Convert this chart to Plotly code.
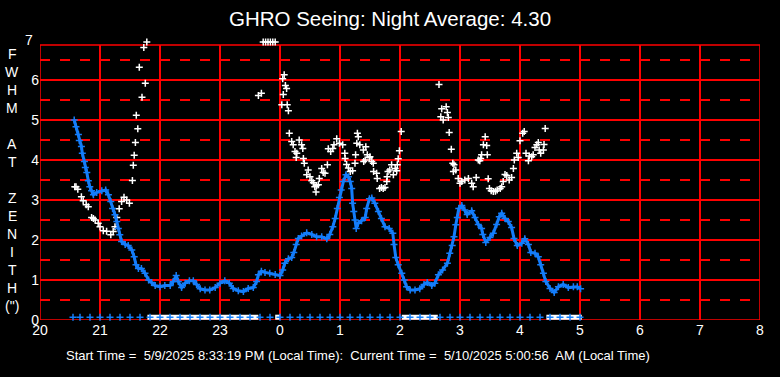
import plotly.graph_objects as go

# ---------------- data (hours; values after midnight expressed as 24+h) ----------------
blue_t = [20.57, 20.60, 20.64, 20.655, 20.69, 20.705, 20.74, 20.755, 20.78, 20.805, 20.83, 20.86, 20.89,
          20.945, 21.03, 21.095, 21.14, 21.18, 21.21, 21.25, 21.28, 21.305, 21.33, 21.36, 21.42, 21.47,
          21.53, 21.57, 21.60, 21.64, 21.69, 21.75, 21.81, 21.86, 21.92, 22.00, 22.08, 22.17, 22.22,
          22.27, 22.305, 22.36, 22.42, 22.49, 22.555, 22.61, 22.67, 22.75, 22.83, 22.92, 23.00, 23.08,
          23.155, 23.22, 23.305, 23.39, 23.47, 23.555, 23.61, 23.64, 23.69, 23.75, 23.83, 23.92, 24.00,
          24.045, 24.08, 24.14, 24.195, 24.23, 24.27, 24.305, 24.36, 24.445, 24.53, 24.61, 24.695, 24.78,
          24.83, 24.88, 24.92, 24.955, 24.99, 25.02, 25.055, 25.10, 25.14, 25.17, 25.195, 25.21, 25.23,
          25.25, 25.27, 25.305, 25.36, 25.42, 25.445, 25.49, 25.53, 25.58, 25.64, 25.69, 25.75, 25.82,
          25.88, 25.90, 25.93, 25.97, 26.03, 26.07, 26.11, 26.17, 26.25, 26.33, 26.40, 26.455, 26.53,
          26.58, 26.64, 26.71, 26.79, 26.83, 26.87, 26.90, 26.93, 26.955, 26.98, 27.03, 27.08, 27.12,
          27.195, 27.25, 27.305, 27.36, 27.38, 27.43, 27.50, 27.555, 27.61, 27.655, 27.695, 27.75,
          27.805, 27.86, 27.90, 27.955, 28.03, 28.08, 28.14, 28.18, 28.25, 28.305, 28.345, 28.39, 28.43,
          28.50, 28.57, 28.64, 28.72, 28.805, 28.89, 28.955, 29.01]
blue_v = [5.00, 4.83, 4.64, 4.49, 4.34, 4.17, 3.96, 3.81, 3.69, 3.48, 3.33, 3.23, 3.13,
          3.19, 3.23, 3.25, 3.13, 2.96, 2.79, 2.63, 2.46, 2.29, 2.13, 1.96, 1.89, 1.86,
          1.75, 1.58, 1.38, 1.29, 1.29, 1.17, 1.00, 0.94, 0.86, 0.83, 0.86, 0.86, 0.96,
          1.11, 0.96, 0.81, 0.92, 0.98, 0.98, 0.89, 0.78, 0.75, 0.75, 0.81, 0.92, 0.98,
          0.92, 0.79, 0.73, 0.71, 0.79, 0.81, 0.96, 1.13, 1.22, 1.19, 1.17, 1.14, 1.11,
          1.25, 1.42, 1.53, 1.56, 1.69, 1.89, 2.04, 2.10, 2.18, 2.14, 2.08, 2.08, 2.03,
          2.14, 2.33, 2.54, 2.79, 3.06, 3.25, 3.46, 3.63, 3.58, 3.46, 3.29, 2.92, 2.71,
          2.50, 2.29, 2.42, 2.48, 2.56, 2.79, 3.03, 3.05, 2.92, 2.71, 2.54, 2.33, 2.29,
          2.17, 1.89, 1.56, 1.38, 1.17, 1.00, 0.83, 0.75, 0.75, 0.78, 0.89, 0.94, 0.86,
          0.92, 1.13, 1.25, 1.42, 1.67, 1.86, 2.08, 2.38, 2.56, 2.79, 2.86, 2.75, 2.64,
          2.73, 2.56, 2.39, 2.29, 2.14, 1.94, 2.06, 2.17, 2.39, 2.58, 2.67, 2.54,
          2.46, 2.31, 2.04, 1.86, 1.92, 2.03, 1.89, 1.69, 1.67, 1.58, 1.38, 1.17, 0.96,
          0.79, 0.69, 0.83, 0.89, 0.81, 0.83, 0.83, 0.78]

white_t = [20.58, 20.60, 20.63, 20.69, 20.72, 20.77, 20.805, 20.86, 20.89, 20.92, 20.97, 21.00, 21.055,
           21.11, 21.18, 21.22, 21.25, 21.28, 21.32, 21.36, 21.40, 21.445, 21.49, 21.54, 21.555, 21.57,
           21.59, 21.605, 21.63, 21.655, 21.70, 21.73, 21.755, 21.78,
           23.64, 23.69, 23.72, 23.76, 23.80, 23.84, 23.88, 23.92,
           24.03, 24.045, 24.055, 24.07, 24.09, 24.11, 24.12, 24.14, 24.155, 24.195, 24.22, 24.25, 24.27,
           24.28, 24.32, 24.36, 24.38, 24.39, 24.405, 24.445, 24.47, 24.50, 24.53, 24.555, 24.58, 24.60,
           24.61, 24.64, 24.655, 24.695, 24.72, 24.75, 24.79, 24.805, 24.845, 24.88, 24.90, 24.945, 24.99,
           25.045, 25.08, 25.085, 25.11, 25.14, 25.17, 25.21, 25.25, 25.26, 25.28, 25.29, 25.305, 25.33,
           25.39, 25.395, 25.42, 25.43, 25.455, 25.49, 25.50, 25.53, 25.555, 25.56, 25.61, 25.62, 25.66,
           25.69, 25.72, 25.75, 25.78, 25.785, 25.80, 25.83, 25.86, 25.89, 25.92, 25.945, 25.955, 25.97,
           25.99, 26.02,
           26.65, 26.68, 26.695, 26.72, 26.77, 26.79, 26.805, 26.82, 26.855, 26.88, 26.89, 26.90, 26.93,
           26.97, 27.00, 27.03, 27.08, 27.14, 27.195, 27.22, 27.27, 27.305, 27.33, 27.345, 27.36, 27.39,
           27.42, 27.445, 27.455, 27.47, 27.49, 27.52, 27.555, 27.59, 27.62, 27.67, 27.695, 27.72, 27.75,
           27.78, 27.82, 27.86, 27.89, 27.905, 27.945, 27.97, 28.00, 28.045, 28.07, 28.10, 28.14, 28.155,
           28.195, 28.22, 28.25, 28.28, 28.305, 28.32, 28.345, 28.39, 28.40, 28.42]
white_v = [3.33, 3.33, 3.27, 3.08, 2.98, 2.88, 2.83, 2.56, 2.54, 2.50, 2.42, 2.33, 2.23,
           2.22, 2.13, 2.21, 2.33, 2.56, 2.78, 2.96, 3.07, 3.00, 2.92, 3.49, 3.87, 4.12,
           4.44, 5.12, 4.78, 6.32, 5.57, 6.81, 5.92, 6.95,
           5.61, 5.67, 6.95, 6.95, 6.95, 6.95, 6.95, 6.95,
           5.38, 6.03, 5.64, 6.13, 5.86, 5.79, 5.38, 5.23, 4.67, 4.46, 4.38, 4.21, 4.06,
           4.17, 4.50, 4.38, 4.29, 4.04, 3.92, 3.63, 3.75, 3.58, 3.48, 3.43, 3.33, 3.20,
           3.36, 3.38, 3.54, 3.79, 3.69, 3.67, 3.88, 4.28, 4.21, 4.29, 4.38, 4.53, 4.42,
           4.38, 4.17, 4.04, 3.89, 3.80, 3.71, 3.73, 3.92, 4.13, 4.42, 4.67, 4.58, 4.38,
           4.25, 3.96, 4.00, 4.33, 4.13, 4.06, 4.08, 3.96, 3.92, 3.71, 3.67, 3.54, 3.29,
           3.31, 3.29, 3.31, 3.46, 3.58, 3.71, 3.75, 3.88, 3.63, 3.79, 3.73, 3.88, 4.03,
           4.23, 4.71,
           5.89, 5.08, 5.28, 5.00, 5.33, 5.19, 5.06, 4.69, 4.27, 3.92, 3.71, 3.88, 3.75,
           3.54, 3.42, 3.46, 3.50, 3.54, 3.42, 3.33, 3.56, 4.00, 3.98, 4.04, 4.13, 4.38,
           4.58, 4.36, 4.13, 3.53, 3.29, 3.23, 3.21, 3.22, 3.25, 3.29, 3.33, 3.46, 3.64,
           3.61, 3.50, 3.56, 3.79, 4.00, 4.17, 4.06, 4.48, 4.67, 4.71, 4.17, 3.98, 4.10,
           4.08, 4.13, 4.31, 4.38, 4.44, 4.25, 4.17, 4.25, 4.39, 4.79]

# bottom row: blue sample markers (start time, then every 10 min on the clock), white status segments
bottom_minutes = [33] + list(range(40, 541, 10))      # minutes after 20:00
bottom_t = [20 + m / 60 for m in bottom_minutes]
bottom_level = 0.07
white_segments = [(21.79, 23.64), (23.92, 24.00), (26.03, 26.63), (28.44, 29.03)]

tick_hours = list(range(20, 33))
tick_text = ["20", "21", "22", "23", "0", "1", "2", "3", "4", "5", "6", "7", "8"]
y_ticks = [0, 1, 2, 3, 4, 5, 6]
y_axis_max = 7.0        # value drawn at the top of the drawing area
frame_top = 6.875       # where the red frame is closed

title_text = "GHRO Seeing: Night Average: 4.30"
footer_text = ("Start Time =  5/9/2025 8:33:19 PM (Local Time):  Current Time =  "
               "5/10/2025 5:00:56  AM (Local Time)")
ylabel_lines = ["F", "W", "H", "M", "", "A", "T", "", "Z", "E", "N", "I", "T", "H", "(\")"]

BLUE = "rgb(20,125,250)"
FONT = "Liberation Sans, Arial, sans-serif"

fig = go.Figure()

# white status bars at the bottom
seg_x, seg_y = [], []
for a, b in white_segments:
    seg_x += [a, b, None]
    seg_y += [bottom_level, bottom_level, None]
fig.add_trace(go.Scatter(x=seg_x, y=seg_y, mode="lines", line=dict(color="white", width=5),
                         hoverinfo="skip", showlegend=False, cliponaxis=False))

fig.add_trace(go.Scatter(x=bottom_t, y=[bottom_level] * len(bottom_t), mode="markers",
                         marker=dict(symbol="cross-thin", size=5, line=dict(color=BLUE, width=1.5)),
                         showlegend=False, cliponaxis=False))

fig.add_trace(go.Scatter(x=white_t, y=white_v, mode="markers",
                         marker=dict(symbol="cross-thin", size=5, line=dict(color="white", width=1.5)),
                         showlegend=False, cliponaxis=False))

fig.add_trace(go.Scatter(x=blue_t, y=blue_v, mode="lines+markers",
                         line=dict(color=BLUE, width=3),
                         marker=dict(symbol="cross-thin", size=5, line=dict(color=BLUE, width=1.5)),
                         showlegend=False))

L, R, T, B = 40, 20, 40, 57
W, H = 780, 377
ph = H - T - B
pw = W - L - R


def py(pix):
    """pixel row -> paper y"""
    return (H - B - pix) / ph


def px(pix):
    """pixel column -> paper x"""
    return (pix - L) / pw


annotations = [
    dict(text="7", xref="paper", yref="paper", x=0, y=1, xanchor="right",
         yanchor="middle", xshift=-5, showarrow=False,
         font=dict(size=14, color="white", family=FONT)),
    dict(text=footer_text, xref="paper", yref="paper", x=px(358), y=py(355),
         xanchor="center", yanchor="middle", showarrow=False,
         font=dict(size=13, color="white", family=FONT)),
]
for i, ch in enumerate(ylabel_lines):
    if ch:
        annotations.append(dict(text=ch, xref="paper", yref="paper", x=px(12), y=py(54 + 18 * i),
                                xanchor="center", yanchor="middle", showarrow=False,
                                font=dict(size=14, color="white", family=FONT)))

shapes = [
    # mask the grid above the frame (below the traces)
    dict(type="rect", xref="x", yref="y", x0=20, x1=32, y0=frame_top, y1=y_axis_max,
         fillcolor="black", line=dict(width=0), layer="between"),
    # red frame
    dict(type="rect", xref="x", yref="y", x0=20, x1=32, y0=0, y1=frame_top,
         fillcolor="rgba(0,0,0,0)", line=dict(color="red", width=1.5), layer="between"),
]

fig.update_layout(
    width=W, height=H,
    margin=dict(l=L, r=R, t=T, b=B, pad=0),
    paper_bgcolor="black", plot_bgcolor="black",
    font=dict(family=FONT, color="white", size=14),
    title=dict(text=title_text, x=0.5, xanchor="center", xref="container",
               y=1 - 19 / H, yanchor="middle", yref="container",
               font=dict(family=FONT, size=20.5, color="white")),
    xaxis=dict(range=[20, 32], tickmode="array", tickvals=tick_hours, ticktext=tick_text,
               showgrid=True, gridcolor="red", gridwidth=1.5, zeroline=False,
               showline=False, ticks="", tickfont=dict(size=14, color="white", family=FONT)),
    yaxis=dict(range=[0, y_axis_max], tickmode="array", tickvals=y_ticks,
               showgrid=True, gridcolor="red", gridwidth=1.5, zeroline=False,
               showline=False, ticks="", tickfont=dict(size=14, color="white", family=FONT),
               minor=dict(dtick=0.5, tick0=0, showgrid=True, gridcolor="red",
                          gridwidth=1.5, griddash="10px,10px")),
    shapes=shapes,
    annotations=annotations,
)

fig.write_html("out.html", config={"displayModeBar": False},
               post_script="document.body.style.margin='0';document.body.style.overflow='hidden';")
